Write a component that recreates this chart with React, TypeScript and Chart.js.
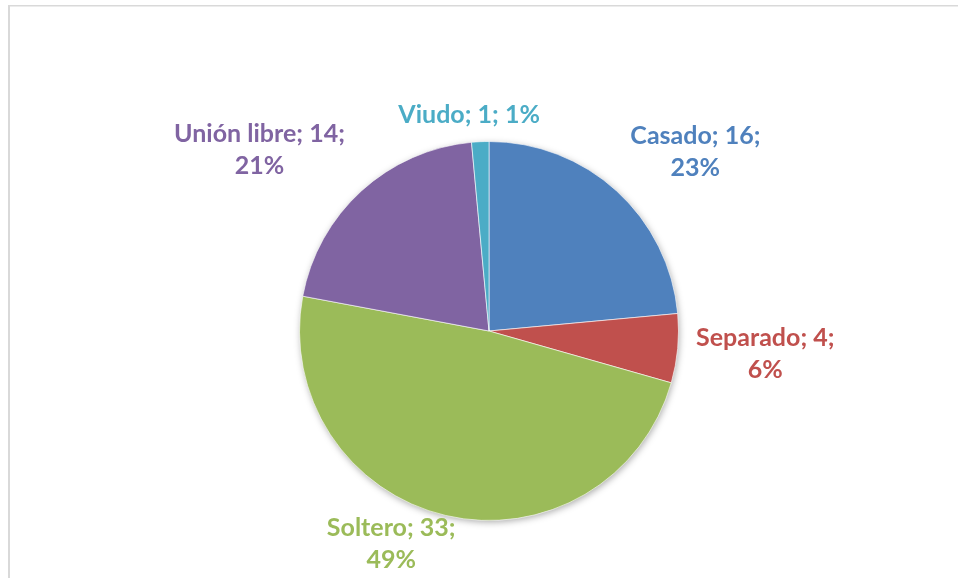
import React, { useEffect, useRef } from "react";
import { Chart, registerables } from "chart.js";

Chart.register(...registerables);

const categories = ["Casado", "Separado", "Soltero", "Unión libre", "Viudo"];
const counts = [16, 4, 33, 14, 1];
const percentLabels = ["23%", "6%", "49%", "21%", "1%"];
const sliceColors = ["#4F81BD", "#C0504D", "#9BBB59", "#8064A2", "#4BACC6"];

// label anchor offsets, in units of the pie radius, from its centre
const labelOffsets = [
  [1.089, -0.947, 2],
  [1.458, 0.121, 2],
  [-0.516, 1.126, 2],
  [-1.211, -0.958, 2],
  [-0.105, -1.142, 1],
];

const FONT = "bold 25px Lato, 'Open Sans', sans-serif";

const framePlugin = {
  id: "frame",
  beforeDraw(chart: any) {
    const ctx = chart.ctx;
    ctx.save();
    ctx.fillStyle = "#D9D9D9";
    ctx.fillRect(8, 5, 2, 573);
    ctx.fillRect(8, 5, 950, 1.5);
    ctx.restore();
  },
  beforeDatasetsDraw(chart: any) {
    const arc = chart.getDatasetMeta(0).data[0];
    if (!arc) return;
    const { x, y, outerRadius } = arc.getProps(["x", "y", "outerRadius"], true);
    const ctx = chart.ctx;
    ctx.save();
    ctx.shadowColor = "rgba(0,0,0,0.35)";
    ctx.shadowBlur = 7;
    ctx.shadowOffsetX = 1;
    ctx.shadowOffsetY = 2;
    ctx.fillStyle = "#ffffff";
    ctx.beginPath();
    ctx.arc(x, y, outerRadius - 0.5, 0, Math.PI * 2);
    ctx.fill();
    ctx.restore();
  },
};

const labelPlugin = {
  id: "sliceLabels",
  afterDatasetsDraw(chart: any) {
    const meta = chart.getDatasetMeta(0);
    const ctx = chart.ctx;
    ctx.save();
    ctx.font = FONT;
    ctx.textAlign = "center";
    ctx.textBaseline = "middle";
    meta.data.forEach((el: any, i: number) => {
      const { x, y, outerRadius } = el.getProps(["x", "y", "outerRadius"], true);
      const [fx, fy, lines] = labelOffsets[i];
      const lx = x + fx * outerRadius;
      const ly = y + fy * outerRadius;
      ctx.fillStyle = sliceColors[i];
      const name = `${categories[i]}; ${counts[i]};`;
      if (lines === 1) {
        ctx.fillText(`${name} ${percentLabels[i]}`, lx, ly);
      } else {
        ctx.fillText(name, lx, ly - 16);
        ctx.fillText(percentLabels[i], lx, ly + 16);
      }
    });
    ctx.restore();
  },
};

export default function App() {
  const ref = useRef<HTMLCanvasElement>(null);
  useEffect(() => {
    if (!ref.current) return;
    const chart = new Chart(ref.current, {
      type: "pie",
      data: {
        labels: categories,
        datasets: [
          {
            data: counts,
            backgroundColor: sliceColors,
            borderColor: "rgba(255,255,255,0.6)",
            borderWidth: 1,
          },
        ],
      },
      options: {
        responsive: false,
        animation: false,
        layout: { padding: { left: 299, right: 279, top: 141, bottom: 57 } },
        plugins: {
          legend: { display: false },
          tooltip: { enabled: false },
        },
      },
      plugins: [framePlugin, labelPlugin],
    });
    return () => chart.destroy();
  }, []);
  return (
    <div style={{ position: "absolute", left: 0, top: 0, width: 958, height: 578, background: "#fff" }}>
      <canvas ref={ref} width={958} height={578} style={{ display: "block" }} />
    </div>
  );
}
